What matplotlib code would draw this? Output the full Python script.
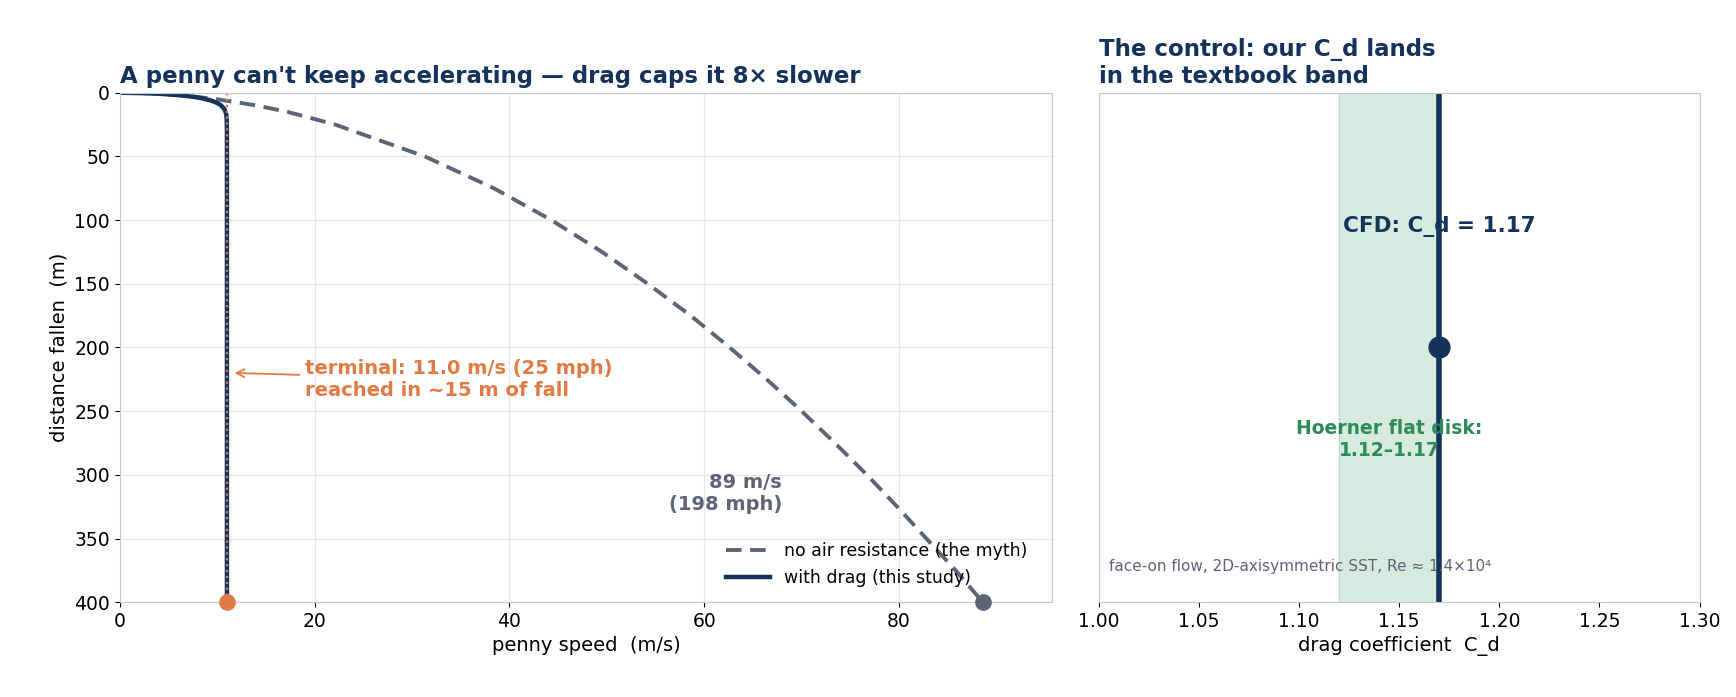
import matplotlib
matplotlib.use("Agg")
import matplotlib.pyplot as plt

# data
h_nodrag = [0, 0.5, 2, 5, 10, 15, 25, 50, 75, 100, 125, 150, 175, 200, 225, 250, 275, 300, 325, 350, 375, 400]
v_nodrag = [0, 3.1, 6.3, 9.9, 14.0, 17.2, 22.1, 31.3, 38.4, 44.3, 49.5, 54.2, 58.6, 62.6, 66.4, 70.0, 73.4, 76.7, 79.8, 82.8, 85.8, 88.6]
h_drag = [0, 0.5, 1, 2, 3, 4, 6, 8, 10, 13, 16, 20, 30, 400]
v_drag = [0, 3.1, 4.4, 6.1, 7.3, 8.2, 9.3, 10.0, 10.4, 10.75, 10.9, 10.97, 11.0, 11.0]
v_term = 11.0
h_total = 400
cd_cfd = 1.17
cd_band = [1.12, 1.17]

NAVY = "#14325c"
GRAY = "#5c6478"
ORANGE = "#e07b45"
GREEN = "#2e8b57"

fig = plt.figure(figsize=(17.36, 6.97), dpi=100)
ax = fig.add_axes([0.069, 0.136, 0.537, 0.731])
ax2 = fig.add_axes([0.633, 0.136, 0.346, 0.731])

ax.plot(v_nodrag, h_nodrag, ls="--", color=GRAY, lw=2.8, dashes=(4, 2.2), label="no air resistance (the myth)")
ax.plot(v_drag, h_drag, color=NAVY, lw=3.2, label="with drag (this study)")
ax.plot([v_term, v_term], [0, h_total], ls=":", color=ORANGE, lw=1.6)
ax.plot([v_term], [h_total], "o", color=ORANGE, ms=11, clip_on=False, zorder=5)
ax.plot([v_nodrag[-1]], [h_total], "o", color=GRAY, ms=11, clip_on=False, zorder=5)
ax.set_xlim(0, 95.7)
ax.set_ylim(400, 0)
ax.grid(True, color="#e6e6e6", lw=0.9)
ax.set_axisbelow(True)
for s in ax.spines.values():
    s.set_color("#c4c8d0")
ax.tick_params(labelsize=13.5)
ax.set_xlabel("penny speed  (m/s)", fontsize=14)
ax.set_ylabel("distance fallen  (m)", fontsize=14)
ax.set_title("A penny can't keep accelerating \u2014 drag caps it 8\u00d7 slower", loc="left",
             fontsize=16.5, fontweight="bold", color=NAVY, pad=7)
ax.annotate("terminal: 11.0 m/s (25 mph)\nreached in ~15 m of fall", xy=(11.5, 220), xytext=(19, 225),
            color=ORANGE, fontsize=14, fontweight="bold", va="center",
            arrowprops=dict(arrowstyle="->", color=ORANGE, lw=1.3))
ax.text(68, 315, "89 m/s\n(198 mph)", color=GRAY, fontsize=14, fontweight="bold", ha="right", va="center")
ax.legend(loc="lower right", fontsize=12.5, frameon=False, handlelength=2.5, bbox_to_anchor=(0.99, 0.0))

ax2.axvspan(cd_band[0], cd_band[1], color="#d6eadd", zorder=0)
ax2.axvline(cd_band[0], color="#b9dcc6", lw=1, zorder=0)
ax2.axvline(cd_cfd, color=NAVY, lw=4)
ax2.plot([cd_cfd], [200], "o", color=NAVY, ms=15)
ax2.set_xlim(1.0, 1.3)
ax2.set_ylim(400, 0)
ax2.set_yticks([])
ax2.set_xticks([1.0, 1.05, 1.1, 1.15, 1.2, 1.25, 1.3])
ax2.set_xticklabels(["1.00", "1.05", "1.10", "1.15", "1.20", "1.25", "1.30"])
ax2.tick_params(labelsize=13.5)
for s in ax2.spines.values():
    s.set_color("#c4c8d0")
ax2.set_xlabel("drag coefficient  C_d", fontsize=14)
ax2.set_title("The control: our C_d lands\nin the textbook band", loc="left",
              fontsize=16.5, fontweight="bold", color=NAVY, pad=7)
ax2.text(cd_cfd, 105, "CFD: C_d = 1.17", ha="center", va="center", fontsize=15.5, fontweight="bold", color=NAVY)
ax2.text(1.145, 272, "Hoerner flat disk:\n1.12\u20131.17", ha="center", va="center", fontsize=13.5,
         fontweight="bold", color=GREEN)
ax2.text(1.005, 372, "face-on flow, 2D-axisymmetric SST, Re \u2248 1.4\u00d710\u2074", fontsize=11, color=GRAY,
         ha="left", va="center")

fig.savefig("out.png", dpi=100)
